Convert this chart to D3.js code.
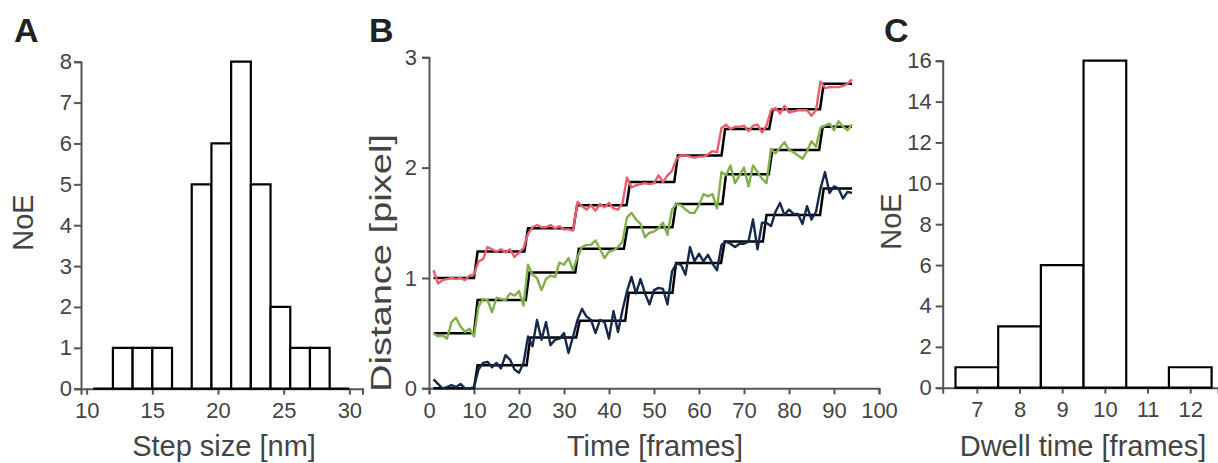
<!DOCTYPE html>
<html>
<head>
<meta charset="utf-8">
<style>
  body { margin: 0; background: #fff; }
  svg { display: block; font-family: "Liberation Sans", Arial, sans-serif; }
  .axis path, .axis line { stroke: #555; stroke-width: 2px; }
  .title { fill: #444; font-size: 29px; }
  .letter { fill: #222; font-size: 34px; font-weight: bold; }
  .bar { fill: #fff; stroke: #000; stroke-width: 2.2px; }
</style>
<script src="https://cdnjs.cloudflare.com/ajax/libs/d3/7.8.5/d3.min.js"></script>
</head>
<body>
<script>
// panel A: step size histogram
var stepEdges = [10.5, 12, 13.5, 15, 16.5, 18, 19.5, 21, 22.5, 24, 25.5, 27, 28.5, 30];
var stepCounts = [0, 1, 1, 1, 0, 5, 6, 8, 5, 2, 1, 1, 0];
var stepTicksX = [10, 15, 20, 25, 30];
var stepTicksY = [0, 1, 2, 3, 4, 5, 6, 7, 8];

// panel C: dwell time histogram
var dwellEdges = [6.5, 7.5, 8.5, 9.5, 10.5, 11.5, 12.5];
var dwellCounts = [1, 3, 6, 16, 0, 1];
var dwellTicksX = [7, 8, 9, 10, 11, 12];
var dwellTicksY = [0, 2, 4, 6, 8, 10, 12, 14, 16];

// panel B: traces, one value per frame (frames 1..94)
var redTrace = [1.07,0.95,0.98,0.99,1.00,0.99,1.00,0.98,1.02,1.03,
  1.15,1.17,1.28,1.26,1.24,1.26,1.23,1.26,1.19,1.23,
  1.27,1.40,1.46,1.48,1.46,1.46,1.48,1.45,1.47,1.44,
  1.44,1.43,1.69,1.65,1.62,1.66,1.61,1.67,1.64,1.68,
  1.63,1.62,1.68,1.91,1.82,1.84,1.85,1.86,1.85,1.86,
  1.93,1.87,1.93,1.97,2.08,2.11,2.11,2.10,2.09,2.10,
  2.10,2.12,2.15,2.14,2.36,2.39,2.35,2.37,2.37,2.38,
  2.33,2.38,2.39,2.32,2.38,2.52,2.54,2.49,2.56,2.50,
  2.51,2.52,2.52,2.52,2.47,2.52,2.78,2.72,2.73,2.73,
  2.73,2.74,2.76,2.80];
var greenTrace = [0.50,0.47,0.48,0.45,0.60,0.64,0.56,0.51,0.54,0.47,
  0.74,0.81,0.80,0.69,0.82,0.81,0.80,0.86,0.84,0.88,
  0.75,1.12,1.03,1.00,0.89,0.99,1.02,1.01,1.14,1.12,
  1.18,1.07,1.19,1.28,1.30,1.30,1.34,1.26,1.18,1.24,
  1.25,1.28,1.33,1.55,1.59,1.53,1.49,1.37,1.41,1.42,
  1.45,1.50,1.39,1.62,1.67,1.66,1.62,1.59,1.59,1.66,
  1.76,1.74,1.76,1.63,1.96,1.93,2.02,1.86,1.93,2.00,
  1.83,2.02,1.96,1.90,1.86,2.17,2.13,2.18,2.23,2.16,
  2.14,2.11,2.08,2.15,2.24,2.19,2.36,2.38,2.40,2.34,
  2.42,2.37,2.34,2.39];
var navyTrace = [0.08,0.04,0.00,0.01,0.03,0.01,0.04,0.00,0.00,0.01,
  0.17,0.23,0.24,0.19,0.23,0.18,0.30,0.26,0.17,0.14,
  0.23,0.47,0.38,0.62,0.44,0.60,0.39,0.44,0.45,0.50,
  0.32,0.47,0.62,0.72,0.65,0.62,0.50,0.62,0.60,0.45,
  0.70,0.51,0.71,0.88,1.01,0.86,0.99,0.86,0.76,0.89,
  0.91,0.90,0.76,1.06,1.13,1.12,1.03,1.28,1.15,1.22,
  1.15,1.21,1.13,1.07,1.30,1.33,1.31,1.28,1.31,1.31,
  1.33,1.53,1.26,1.50,1.50,1.47,1.60,1.68,1.57,1.62,
  1.58,1.58,1.49,1.65,1.53,1.60,1.81,1.96,1.77,1.83,
  1.81,1.72,1.78,1.77];

// fitted steps (black)
var redStepTimes = [10, 21.2, 32.1, 43.9, 54.5, 65, 75.6, 86.9];
var redLevels = [1.0, 1.24, 1.45, 1.66, 1.87, 2.11, 2.35, 2.53, 2.76];
var greenStepTimes = [10, 21.5, 32.5, 43.3, 54.1, 65.2, 75.5, 86.7];
var greenLevels = [0.50, 0.80, 1.05, 1.265, 1.46, 1.67, 1.94, 2.16, 2.37];
var navyStepTimes = [10, 21.7, 32.7, 43.6, 54.1, 64.9, 74.2, 86.9];
var navyLevels = [0, 0.21, 0.46, 0.613, 0.865, 1.136, 1.33, 1.57, 1.81];
var timeTicks = [0, 10, 20, 30, 40, 50, 60, 70, 80, 90, 100];
var distTicks = [0, 1, 2, 3];

var traceColors = ["#ee5d6c", "#82b04a", "#14294b"];

var svg = d3.select("body").append("svg")
    .attr("width", 1218).attr("height", 463);

function histogram(edges, counts, x, y) {
  var g = svg.append("g");
  g.selectAll("path.bar")
    .data(counts)
    .join("path")
    .attr("class", "bar")
    .attr("d", function(d, i) {
      var x0 = x(edges[i]), x1 = x(edges[i + 1]);
      return "M" + x0 + "," + y(0) + "V" + y(d) + "H" + x1 + "V" + y(0) + "Z";
    });
}

function axes(x, y, xt, yt, yPad) {
  var fmt = d3.format("d");
  var gx = svg.append("g").attr("class", "axis")
    .attr("transform", "translate(0," + y.range()[0] + ")")
    .call(d3.axisBottom(x).tickValues(xt).tickFormat(fmt).tickSizeOuter(0).tickSize(6).tickPadding(8));
  var gy = svg.append("g").attr("class", "axis")
    .attr("transform", "translate(" + x.range()[0] + ",0)")
    .call(d3.axisLeft(y).tickValues(yt).tickFormat(fmt).tickSizeOuter(0).tickSize(7).tickPadding(yPad));
  [gx, gy].forEach(function(g) {
    g.attr("font-family", null).attr("font-size", null);
    g.selectAll("text").style("font-size", "22px").style("fill", "#444");
  });
}

// ---- A
var xA = d3.scaleLinear().domain([9.57, 31.0]).range([81, 362.5]);
var yA = d3.scaleLinear().domain([0, 8]).range([388.7, 61.7]);
axes(xA, yA, stepTicksX, stepTicksY, 2);
histogram(stepEdges, stepCounts, xA, yA);

// ---- C
var xC = d3.scaleLinear().domain([6.2, 12.65]).range([942.7, 1218]);
var yC = d3.scaleLinear().domain([0, 16]).range([387.7, 60.7]);
axes(xC, yC, dwellTicksX, dwellTicksY, 4);
histogram(dwellEdges, dwellCounts, xC, yC);

// ---- B
var xB = d3.scaleLinear().domain([0, 100]).range([429, 879]);
var yB = d3.scaleLinear().domain([0, 3]).range([388.3, 57.3]);
axes(xB, yB, timeTicks, distTicks, 5);

var line = d3.line().x(function(d) { return xB(d[0]); }).y(function(d) { return yB(d[1]); });

function stepPoints(times, levels) {
  var pts = [[1, levels[0]]];
  times.forEach(function(t, i) {
    pts.push([t, levels[i]]);
    pts.push([t + 0.8, levels[i + 1]]);
  });
  pts.push([94, levels[levels.length - 1]]);
  return pts;
}

var fits = [stepPoints(redStepTimes, redLevels), stepPoints(greenStepTimes, greenLevels), stepPoints(navyStepTimes, navyLevels)];
var traces = [redTrace, greenTrace, navyTrace];

svg.append("g").selectAll("path")
  .data(fits)
  .join("path")
  .attr("d", line)
  .attr("fill", "none")
  .attr("stroke", "#000")
  .attr("stroke-width", 2.5);

svg.append("g").selectAll("path")
  .data(traces)
  .join("path")
  .attr("d", function(d) { return line(d.map(function(v, i) { return [i + 1, v]; })); })
  .attr("fill", "none")
  .attr("stroke", function(d, i) { return traceColors[i]; })
  .attr("stroke-width", 2.4)
  .attr("stroke-linejoin", "round");

// titles
svg.append("text").attr("class", "title").attr("x", 224).attr("y", 456)
  .attr("text-anchor", "middle").text("Step size [nm]");
svg.append("text").attr("class", "title").attr("x", 655).attr("y", 456)
  .attr("text-anchor", "middle").text("Time [frames]");
svg.append("text").attr("class", "title").attr("x", 1083).attr("y", 456)
  .attr("text-anchor", "middle").text("Dwell time [frames]");
svg.append("text").attr("class", "title")
  .attr("transform", "translate(33,222.5) rotate(-90)")
  .attr("text-anchor", "middle").text("NoE");
svg.append("text").attr("class", "title")
  .attr("transform", "translate(901,221.5) rotate(-90)")
  .attr("text-anchor", "middle").text("NoE");
svg.append("text").attr("class", "title")
  .attr("transform", "translate(391,263) rotate(-90)")
  .style("font-size", "30px")
  .attr("text-anchor", "middle")
  .attr("textLength", 258).attr("lengthAdjust", "spacingAndGlyphs")
  .text("Distance [pixel]");

svg.append("text").attr("class", "letter").attr("x", 14).attr("y", 42).text("A");
svg.append("text").attr("class", "letter").attr("x", 369).attr("y", 42).text("B");
svg.append("text").attr("class", "letter").attr("x", 884).attr("y", 42).text("C");
</script>
</body>
</html>
